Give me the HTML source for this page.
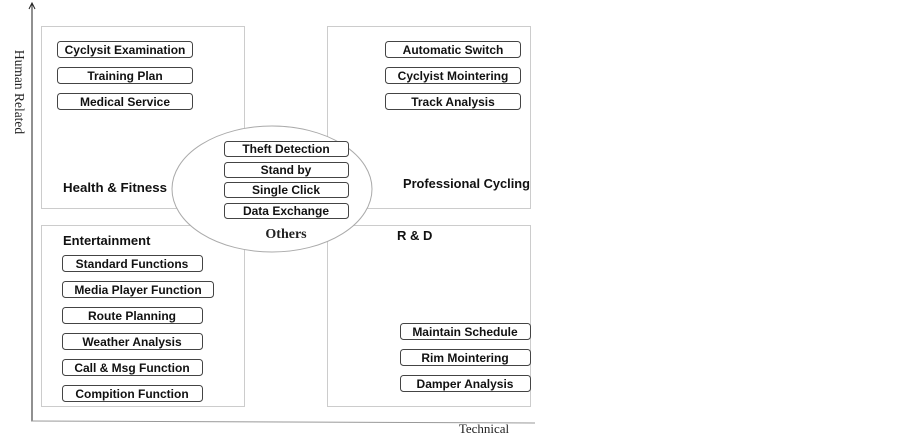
<!DOCTYPE html>
<html><head><style>body{margin:0;background:#fff}svg{display:block}</style></head><body>
<svg width="902" height="436" xmlns="http://www.w3.org/2000/svg" font-family="Liberation Sans, sans-serif">
<line x1="32" y1="3" x2="32" y2="421" stroke="#222" stroke-width="1"/>
<polyline points="29,9 32,3 35,9" fill="none" stroke="#222"/>
<line x1="31" y1="421" x2="535" y2="423" stroke="#999" stroke-width="1"/>
<text x="15" y="92" font-family="Liberation Serif, serif" font-size="13.5" transform="rotate(90 15 92)" text-anchor="middle" fill="#222">Human Related</text>
<text x="484" y="433" font-family="Liberation Serif, serif" font-size="13" text-anchor="middle" fill="#222">Technical</text>
<g fill="#fff" stroke="#ccc">
<rect x="41.5" y="26.5" width="203" height="182"/>
<rect x="327.5" y="26.5" width="203" height="182"/>
<rect x="41.5" y="225.5" width="203" height="181"/>
<rect x="327.5" y="225.5" width="203" height="181"/>
</g>
<ellipse cx="272" cy="189" rx="100" ry="63" fill="#fff" stroke="#aaa"/>
<g font-weight="bold" font-size="13" fill="#111">
<text x="63" y="192" textLength="104" lengthAdjust="spacingAndGlyphs">Health &amp; Fitness</text>
<text x="403" y="188" textLength="127" lengthAdjust="spacingAndGlyphs">Professional Cycling</text>
<text x="63" y="245">Entertainment</text>
<text x="397" y="240">R &amp; D</text>
</g>
<text x="286" y="238" font-family="Liberation Serif, serif" font-weight="bold" font-size="14" text-anchor="middle" fill="#222">Others</text>
<g fill="#fff" stroke="#444">
<rect x="57.5" y="41.5" width="135" height="16" rx="3"/>
<rect x="57.5" y="67.5" width="135" height="16" rx="3"/>
<rect x="57.5" y="93.5" width="135" height="16" rx="3"/>
<rect x="385.5" y="41.5" width="135" height="16" rx="3"/>
<rect x="385.5" y="67.5" width="135" height="16" rx="3"/>
<rect x="385.5" y="93.5" width="135" height="16" rx="3"/>
<rect x="224.5" y="141.5" width="124" height="15" rx="3"/>
<rect x="224.5" y="162.5" width="124" height="15" rx="3"/>
<rect x="224.5" y="182.5" width="124" height="15" rx="3"/>
<rect x="224.5" y="203.5" width="124" height="15" rx="3"/>
<rect x="62.5" y="255.5" width="140" height="16" rx="3"/>
<rect x="62.5" y="281.5" width="151" height="16" rx="3"/>
<rect x="62.5" y="307.5" width="140" height="16" rx="3"/>
<rect x="62.5" y="333.5" width="140" height="16" rx="3"/>
<rect x="62.5" y="359.5" width="140" height="16" rx="3"/>
<rect x="62.5" y="385.5" width="140" height="16" rx="3"/>
<rect x="400.5" y="323.5" width="130" height="16" rx="3"/>
<rect x="400.5" y="349.5" width="130" height="16" rx="3"/>
<rect x="400.5" y="375.5" width="130" height="16" rx="3"/>
</g>
<g font-weight="bold" font-size="12" fill="#111" text-anchor="middle">
<text x="125" y="54">Cyclysit Examination</text>
<text x="125" y="80">Training Plan</text>
<text x="125" y="106">Medical Service</text>
<text x="453" y="54">Automatic Switch</text>
<text x="453" y="80">Cyclyist Mointering</text>
<text x="453" y="106">Track Analysis</text>
<text x="286" y="153">Theft Detection</text>
<text x="286" y="174">Stand by</text>
<text x="286" y="194">Single Click</text>
<text x="286" y="215">Data Exchange</text>
<text x="132" y="268">Standard Functions</text>
<text x="138" y="294">Media Player Function</text>
<text x="132" y="320">Route Planning</text>
<text x="132" y="346">Weather Analysis</text>
<text x="132" y="372">Call &amp; Msg Function</text>
<text x="132" y="398">Compition Function</text>
<text x="465" y="336">Maintain Schedule</text>
<text x="465" y="362">Rim Mointering</text>
<text x="465" y="388">Damper Analysis</text>
</g>
</svg>
</body></html>
